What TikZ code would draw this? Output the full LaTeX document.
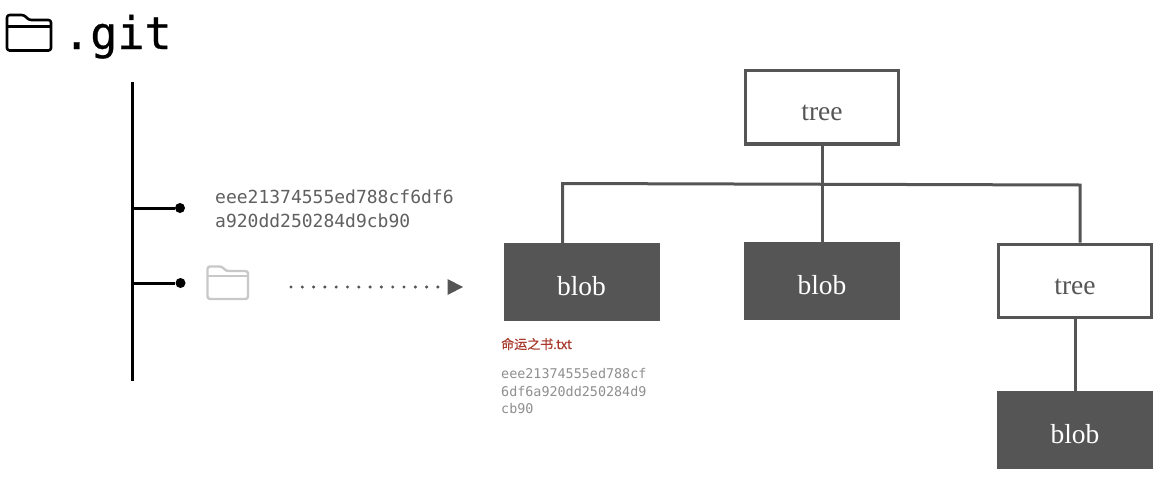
\documentclass[tikz,border=0pt]{standalone}
\usepackage{fontspec}
\setmainfont{Liberation Serif}
\setmonofont{DejaVu Sans Mono}
\newfontfamily\cjkfont[FakeBold=0.5]{Noto Sans CJK SC}
\newfontfamily\titlefont[FakeBold=0.6]{DejaVu Sans Mono}
\definecolor{boxgray}{HTML}{555555}
\definecolor{hashgray}{HTML}{606060}
\definecolor{lightgray2}{HTML}{8E8E8E}
\definecolor{foldergray}{HTML}{C8C8C8}
\definecolor{redtext}{HTML}{A83A2C}
\newcommand{\boxlabel}[1]{\raisebox{-13.2pt}[0pt][0pt]{#1}}
\tikzset{
  treebox/.style={draw=boxgray,line width=3.3pt,fill=white,minimum width=152.5pt,minimum height=73.5pt,inner sep=0pt,text=boxgray,font=\fontsize{27.5}{27.5}\selectfont},
  blobbox/.style={fill=boxgray,minimum width=156pt,minimum height=78pt,inner sep=0pt,text=white,font=\fontsize{27.5}{27.5}\selectfont},
  link/.style={draw=boxgray,line width=3pt},
  trunk/.style={draw=black,line width=3pt},
  dotend/.style={circle,fill=black,minimum size=10pt,inner sep=0pt},
  folderline/.style={line width=#1,line join=round,rounded corners=2.5pt},
  hashtext/.style={font=\ttfamily\fontsize{18}{24}\selectfont,text=hashgray,align=left,anchor=north west,inner sep=0pt},
  smallhash/.style={font=\ttfamily\fontsize{13.4}{17.3}\selectfont,text=lightgray2,align=left,anchor=north west,inner sep=0pt}
}
\begin{document}
\begin{tikzpicture}[x=1pt,y=-1pt]
\useasboundingbox (0,0) rectangle (1172,482);
% title
\draw[folderline=2.6pt] (7,24) -- (7,15) -- (24,15) -- (29,20) -- (51,20) -- (51,50.5) -- (7,50.5) -- cycle;
\draw[line width=2.2pt] (8,26.5) -- (50,26.5);
\node[font=\titlefont\fontsize{45}{45}\selectfont,anchor=base west,inner sep=0pt] (title) at (63,49) {.git};
% trunk
\coordinate (trunkTop) at (132,82);
\coordinate (trunkBottom) at (132,381);
\draw[trunk] (trunkTop) -- (trunkBottom);
\node[dotend] (dotA) at (180,208) {};
\node[dotend] (dotB) at (180.5,283) {};
\coordinate (jA) at (132,208);
\coordinate (jB) at (132,283);
\draw[trunk] (jA) -- (dotA);
\draw[trunk] (jB) -- (dotB);
\node[hashtext] (hashA) at (215,189.5) {eee21374555ed788cf6df6\\a920dd250284d9cb90};
% grey folder
\draw[draw=foldergray,folderline=2.4pt] (207.5,276) -- (207.5,266.5) -- (222,266.5) -- (226,271) -- (248,271) -- (248,299) -- (207.5,299) -- cycle;
\draw[draw=foldergray,line width=2pt] (208,276) -- (247.5,276);
% dotted arrow
\coordinate (dotsStart) at (291,287);
\coordinate (dotsEnd) at (441,287);
\draw[draw=boxgray,line width=3.4pt,line cap=round,dash pattern=on 0pt off 11.3pt] (dotsStart) -- (dotsEnd);
\fill[boxgray] (447.5,279) -- (463,287) -- (447.5,295) -- cycle;
% tree
\node[treebox] (treeTop) at (822,107.3) {\boxlabel{tree}};
\node[blobbox] (blobA) at (581.5,282) {\boxlabel{blob}};
\node[blobbox] (blobB) at (822,281) {\boxlabel{blob}};
\node[treebox] (treeR) at (1075,281) {\boxlabel{tree}};
\node[blobbox] (blobC) at (1075,430) {\boxlabel{blob}};
\coordinate (busL) at (562.5,183.5);
\coordinate (busM) at (822,184);
\coordinate (busR) at (1080,185);
\draw[link] (busM |- treeTop.south) -- (busM |- blobB.north);
\draw[link,line join=miter] (busL |- blobA.north) -- (busL) -- (busR) -- (busR |- treeR.north);
\draw[link] (treeR.south) -- (blobC.north);
% labels
\node[anchor=base west,inner sep=0pt,text=redtext,font=\fontsize{13}{13}\selectfont] (fname) at (501,349) {\cjkfont 命运之书.txt};
\node[smallhash] (hashB) at (501,368.5) {eee21374555ed788cf\\6df6a920dd250284d9\\cb90};
\end{tikzpicture}
\end{document}
